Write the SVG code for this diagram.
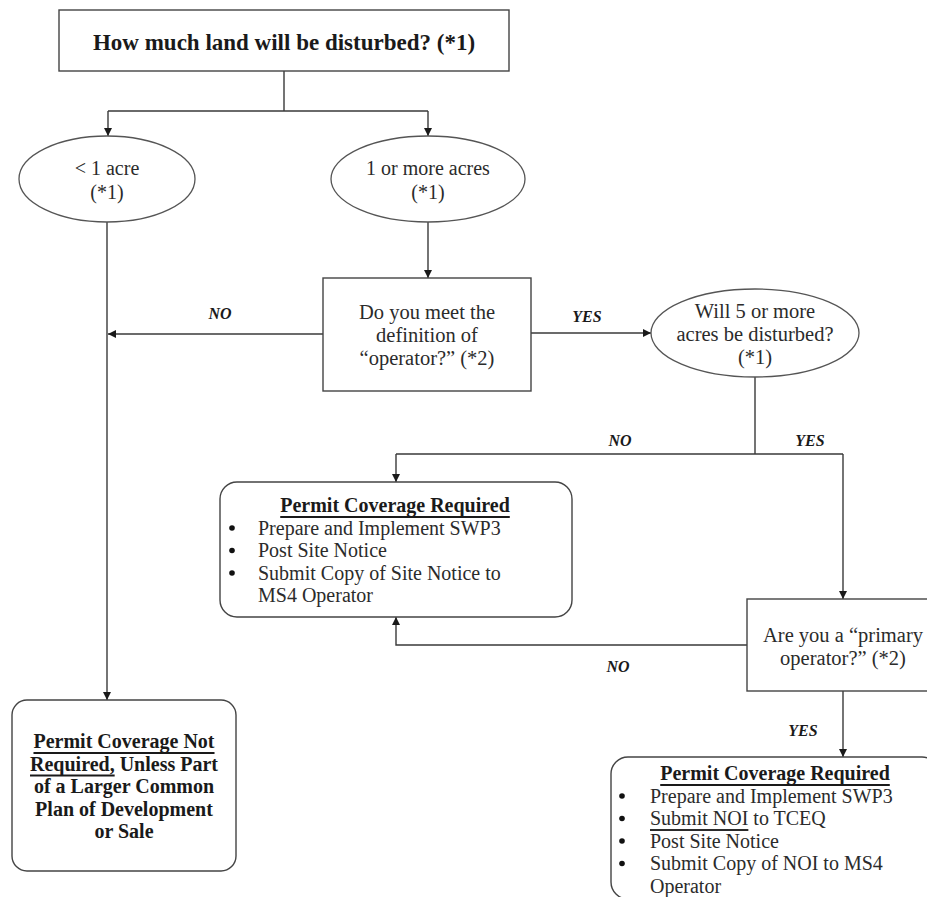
<svg xmlns="http://www.w3.org/2000/svg" width="927" height="897" viewBox="0 0 927 897">
<style>
  .shape { fill: #ffffff; stroke: #444444; stroke-width: 1.4; }
  .ell { fill: #ffffff; stroke: #555555; stroke-width: 1.3; }
  .conn { fill: none; stroke: #3a3a3a; stroke-width: 1.4; }
  .dot { fill: #111111; }
  text { font-family: "Liberation Serif", "Times New Roman", serif; fill: #2b2b2b; dominant-baseline: central; }
  .t { font-size: 20.5px; }
  .l { font-size: 20px; }
  .e { font-size: 20px; text-anchor: middle; }
  .c { text-anchor: middle; }
  .b { font-weight: bold; fill: #1a1a1a; }
  .title { font-size: 23px; font-weight: bold; text-anchor: middle; fill: #1a1a1a; }
  .lbl { font-size: 16px; font-weight: bold; font-style: italic; text-anchor: middle; fill: #1a1a1a; }
  .u { text-decoration: underline; }
</style>
<defs>
  <marker id="arrow" viewBox="0 0 10 10" refX="10" refY="5" markerWidth="9" markerHeight="8" markerUnits="userSpaceOnUse" orient="auto">
    <path d="M0,0 L10,5 L0,10 z" fill="#1a1a1a"/>
  </marker>
</defs>
<rect width="927" height="897" fill="#ffffff"/>

<g id="connectors">
  <path class="conn" d="M284,71 V111 M108,111 H428"/>
  <path class="conn" d="M108,111 V136" marker-end="url(#arrow)"/>
  <path class="conn" d="M428,111 V136" marker-end="url(#arrow)"/>
  <path class="conn" d="M107,222 V700" marker-end="url(#arrow)"/>
  <path class="conn" d="M428,222 V278" marker-end="url(#arrow)"/>
  <path class="conn" d="M323,334 H108" marker-end="url(#arrow)"/>
  <path class="conn" d="M531,333 H651" marker-end="url(#arrow)"/>
  <path class="conn" d="M755,377 V454 M396,454 H843"/>
  <path class="conn" d="M396,454 V482" marker-end="url(#arrow)"/>
  <path class="conn" d="M843,454 V599" marker-end="url(#arrow)"/>
  <path class="conn" d="M747,645 H396 V617" marker-end="url(#arrow)"/>
  <path class="conn" d="M843,691 V757" marker-end="url(#arrow)"/>
  <text class="lbl" x="220" y="313">NO</text>
  <text class="lbl" x="587" y="316">YES</text>
  <text class="lbl" x="620" y="440">NO</text>
  <text class="lbl" x="810" y="440">YES</text>
  <text class="lbl" x="618" y="666">NO</text>
  <text class="lbl" x="803" y="730">YES</text>
</g>

<g id="node-land">
  <rect class="shape" x="59" y="10" width="450" height="61"/>
  <text class="title" x="284" y="42">How much land will be disturbed? (*1)</text>
</g>

<g id="node-less1">
  <ellipse class="ell" cx="107" cy="179" rx="88" ry="43"/>
  <text class="e" x="107" y="168">&lt; 1 acre</text>
  <text class="e" x="107" y="192">(*1)</text>
</g>

<g id="node-more1">
  <ellipse class="ell" cx="428" cy="179" rx="97" ry="43"/>
  <text class="e" x="428" y="168">1 or more acres</text>
  <text class="e" x="428" y="192">(*1)</text>
</g>

<g id="node-operator">
  <rect class="shape" x="323" y="278" width="208" height="113"/>
  <text class="t c" x="427" y="312">Do you meet the</text>
  <text class="t c" x="427" y="335">definition of</text>
  <text class="t c" x="427" y="358">“operator?” (*2)</text>
</g>

<g id="node-five">
  <ellipse class="ell" cx="755" cy="333" rx="104" ry="44"/>
  <text class="t c" x="755" y="311">Will 5 or more</text>
  <text class="t c" x="755" y="334">acres be disturbed?</text>
  <text class="t c" x="755" y="357">(*1)</text>
</g>

<g id="node-permit-small">
  <rect class="shape" x="220" y="482" width="352" height="135" rx="17"/>
  <text class="l c b u" x="395" y="505">Permit Coverage Required</text>
  <circle class="dot" cx="232" cy="528" r="2.8"/>
  <text class="l" x="258" y="527.5">Prepare and Implement SWP3</text>
  <circle class="dot" cx="232" cy="550.5" r="2.8"/>
  <text class="l" x="258" y="550">Post Site Notice</text>
  <circle class="dot" cx="232" cy="573" r="2.8"/>
  <text class="l" x="258" y="572.5">Submit Copy of Site Notice to</text>
  <text class="l" x="258" y="595">MS4 Operator</text>
</g>

<g id="node-primary">
  <rect class="shape" x="747" y="599" width="192" height="92"/>
  <text class="t c" x="843" y="635">Are you a “primary</text>
  <text class="t c" x="843" y="658">operator?” (*2)</text>
</g>

<g id="node-not-required">
  <rect class="shape" x="12" y="700" width="224" height="171" rx="15"/>
  <text class="l c b" x="124" y="741"><tspan class="u">Permit Coverage Not</tspan></text>
  <text class="l c b" x="124" y="763.5"><tspan class="u">Required,</tspan> Unless Part</text>
  <text class="l c b" x="124" y="786">of a Larger Common</text>
  <text class="l c b" x="124" y="808.5">Plan of Development</text>
  <text class="l c b" x="124" y="831">or Sale</text>
</g>

<g id="node-permit-large">
  <rect class="shape" x="611" y="757" width="328" height="142" rx="17"/>
  <text class="l c b u" x="775" y="773">Permit Coverage Required</text>
  <circle class="dot" cx="622" cy="796" r="2.8"/>
  <text class="l" x="650" y="795.5">Prepare and Implement SWP3</text>
  <circle class="dot" cx="622" cy="818.5" r="2.8"/>
  <text class="l" x="650" y="818"><tspan class="u">Submit NOI</tspan> to TCEQ</text>
  <circle class="dot" cx="622" cy="841" r="2.8"/>
  <text class="l" x="650" y="840.5">Post Site Notice</text>
  <circle class="dot" cx="622" cy="863.5" r="2.8"/>
  <text class="l" x="650" y="863">Submit Copy of NOI to MS4</text>
  <text class="l" x="650" y="885.5">Operator</text>
</g>
</svg>
